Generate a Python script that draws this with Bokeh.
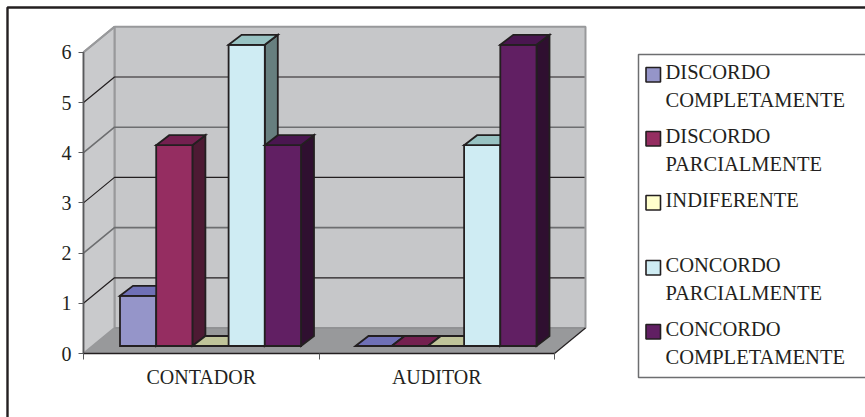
from bokeh.core.properties import value
from bokeh.embed import file_html
from bokeh.models import FixedTicker, LinearAxis, Range1d
from bokeh.plotting import figure
from bokeh.resources import INLINE

# Survey answers per respondent group
groups = ["CONTADOR", "AUDITOR"]
series = ["DISCORDO COMPLETAMENTE", "DISCORDO PARCIALMENTE", "INDIFERENTE",
          "CONCORDO PARCIALMENTE", "CONCORDO COMPLETAMENTE"]
contador = [1, 4, 0, 6, 4]
auditor = [0, 0, 0, 4, 6]

legend_lines = [["DISCORDO", "COMPLETAMENTE"], ["DISCORDO", "PARCIALMENTE"],
                ["INDIFERENTE"], ["CONCORDO", "PARCIALMENTE"],
                ["CONCORDO", "COMPLETAMENTE"]]

front_colors = ["#9595C9", "#952D61", "#FFFFCC", "#CFECF3", "#611F63"]
top_colors = ["#6F70B6", "#742050", "#C0C49A", "#98C2C2", "#4A1650"]
side_colors = ["#4E4E78", "#4D1A33", "#7F7F66", "#677F7F", "#2F0F30"]

FONT = "Liberation Serif"
INK = "#231F20"
W, H = 865, 417

# Page position of the axis origin and size of one axis unit
ORIGIN_X, ORIGIN_Y = 83, 353
GROUP_PX, VALUE_PX = 235.5, 50.2

# Oblique projection, in axis units
WALL_DX, WALL_DY = 31 / GROUP_PX, 25.5 / VALUE_PX
BAR_DX, BAR_DY = 13 / GROUP_PX, 10 / VALUE_PX
BAR_W = 36.2 / GROUP_PX
BAR_START = 36.5 / GROUP_PX
BAR_LIFT = 7.5 / VALUE_PX


def page_x(px):
    return (px - ORIGIN_X) / GROUP_PX


def page_y(px):
    return (ORIGIN_Y - px) / VALUE_PX


p = figure(width=W, height=H, output_backend="svg", toolbar_location=None,
           x_range=Range1d(page_x(0), page_x(W)), y_range=Range1d(page_y(H), page_y(0)),
           x_axis_location=None, y_axis_location=None,
           min_border=0, background_fill_color="white",
           border_fill_color="white", outline_line_color=None)
p.grid.visible = False

# Walls and floor
wall_right = 2 + WALL_DX
p.patch([WALL_DX, wall_right, wall_right, WALL_DX],
        [WALL_DY, WALL_DY, 6 + WALL_DY, 6 + WALL_DY],
        fill_color="#C6C7C9", line_color="#98999B", line_width=2)
p.patch([0, WALL_DX, WALL_DX, 0], [0, WALL_DY, 6 + WALL_DY, 6],
        fill_color="#C9CACC", line_color="#98999B", line_width=2)
p.patch([0, WALL_DX, wall_right, 2], [0, WALL_DY, WALL_DY, 0],
        fill_color="#98999B", line_color=None)
p.line([WALL_DX, wall_right], [WALL_DY, WALL_DY], line_color="#8A8B8D", line_width=1)
p.line([2, wall_right], [0, WALL_DY], line_color=INK, line_width=1.2)

# Gridlines run up the side wall and along the back wall
for level in [1, 2, 3, 4, 5]:
    even = level % 2 == 0
    color = "#6D6E70" if even else INK
    width = 1.6 if even else 1.2
    p.line([0, WALL_DX, wall_right - 0.004], [level, level + WALL_DY, level + WALL_DY],
           line_color=color, line_width=width)
p.line([0, WALL_DX], [6, 6 + WALL_DY], line_color="#98999B", line_width=2)

# Bars, each one a front face with a top and a side
for g, values in enumerate([contador, auditor]):
    for s, v in enumerate(values):
        x0 = g + BAR_START + s * BAR_W
        x1 = x0 + BAR_W
        y0 = BAR_LIFT
        y1 = BAR_LIFT + v
        outline = dict(line_color=INK, line_width=1.8, line_join="miter")
        if v > 0:
            p.patch([x1, x1 + BAR_DX, x1 + BAR_DX, x1],
                    [y0, y0 + BAR_DY, y1 + BAR_DY, y1],
                    fill_color=side_colors[s], **outline)
            p.patch([x0, x1, x1, x0], [y0, y0, y1, y1],
                    fill_color=front_colors[s], **outline)
        p.patch([x0, x0 + BAR_DX, x1 + BAR_DX, x1],
                [y1, y1 + BAR_DY, y1 + BAR_DY, y1],
                fill_color=top_colors[s], **outline)

# Axis lines stop at the last tick, so they are drawn on their own
p.line([0, 0], [0, 6], line_color="#58595B", line_width=1.5)
p.line([0, 2], [0, 0], line_color=INK, line_width=1.5)

# Value axis along the front edge of the side wall
y_axis = LinearAxis(fixed_location=0, ticker=FixedTicker(ticks=[0, 1, 2, 3, 4, 5, 6]),
                    axis_line_color=None,
                    major_tick_line_color="#58595B", major_tick_in=0, major_tick_out=5,
                    minor_tick_line_color=None, major_label_standoff=7,
                    major_label_text_font=FONT, major_label_text_font_size="20px",
                    major_label_text_color=INK)
p.add_layout(y_axis, "left")

# Category axis: boundary ticks, with names centred between them
x_axis = LinearAxis(fixed_location=0,
                    ticker=FixedTicker(ticks=[0.5, 1.5], minor_ticks=[0, 1, 2]),
                    major_label_overrides={0.5: groups[0], 1.5: groups[1]},
                    axis_line_color=None,
                    major_tick_line_color=None, major_tick_in=0, major_tick_out=6,
                    minor_tick_line_color="#58595B", minor_tick_in=0, minor_tick_out=6,
                    major_label_standoff=6, major_label_text_font=FONT,
                    major_label_text_font_size="20px", major_label_text_color=INK)
p.add_layout(x_axis, "below")

# Chart-area border: only its top and left sides fall inside the page
p.line([page_x(W), page_x(7), page_x(7)], [page_y(7), page_y(7), page_y(H)],
       line_color=INK, line_width=2.4)

# Legend frame, open on the right where it meets the page edge
p.line([page_x(W), page_x(638), page_x(638), page_x(W)],
       [page_y(54), page_y(54), page_y(377), page_y(377)],
       line_color="#6D6E70", line_width=1.5)

# Legend entries
swatch_tops = [67, 131, 195, 260, 324]
for s, lines in enumerate(legend_lines):
    top = swatch_tops[s]
    p.quad(left=page_x(645.5), right=page_x(660), top=page_y(top), bottom=page_y(top + 14.5),
           fill_color=front_colors[s], line_color=INK, line_width=1.6)
    for i, line in enumerate(lines):
        p.text(x=[page_x(665)], y=[page_y(top + 4.5 + 28 * i)], text=[line],
               text_font=value(FONT), text_font_size="20.5px",
               text_color=INK, text_baseline="middle")

open("out.html", "w").write(file_html(p, INLINE))
